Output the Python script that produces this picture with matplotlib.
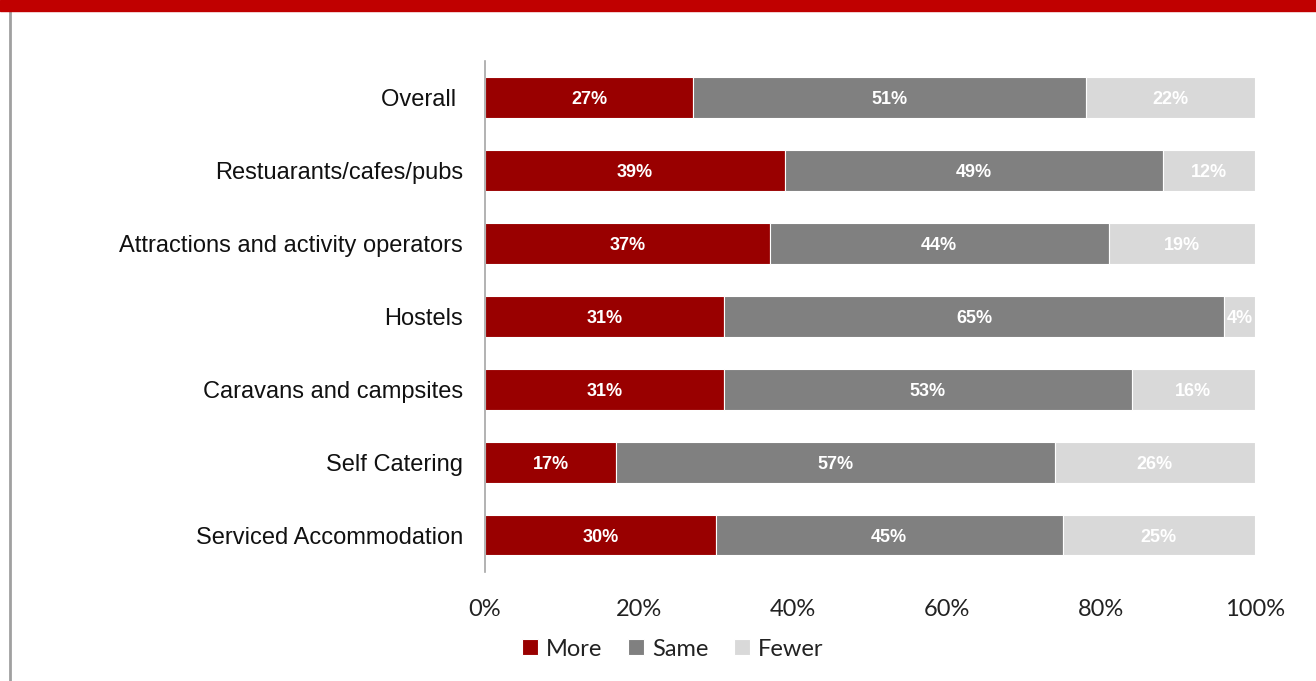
import matplotlib.pyplot as plt
from matplotlib.patches import Rectangle
from matplotlib.lines import Line2D

categories = ["Overall ", "Restuarants/cafes/pubs", "Attractions and activity operators",
              "Hostels", "Caravans and campsites", "Self Catering", "Serviced Accommodation"]
more = [27, 39, 37, 31, 31, 17, 30]
same = [51, 49, 44, 65, 53, 57, 45]
fewer = [22, 12, 19, 4, 16, 26, 25]
series_names = ["More", "Same", "Fewer"]
colors = ["#990000", "#808080", "#D9D9D9"]
xticks = [0, 20, 40, 60, 80, 100]

fig = plt.figure(figsize=(13.16, 6.81), dpi=100)
ax = fig.add_axes([485 / 1316, 1 - 571.5 / 681, 770 / 1316, 510.5 / 681])

y = list(range(len(categories)))
left = [0] * len(categories)
for name, vals, col in zip(series_names, [more, same, fewer], colors):
    ax.barh(y, vals, left=left, height=0.56, color=col, edgecolor="white",
            linewidth=0.8, label=name)
    for yi, l, v in zip(y, left, vals):
        ax.text(l + v / 2, yi + 0.03, f"{v}%", ha="center", va="center", color="white",
                fontsize=13, fontweight="bold", family="Liberation Sans")
    left = [a + b for a, b in zip(left, vals)]

ax.set_xlim(0, 100)
ax.set_ylim(len(categories) - 0.5, -0.5)
ax.set_yticks(y)
ax.set_yticklabels(categories, fontsize=17, family="Liberation Sans", color="#111111")
ax.set_xticks(xticks)
ax.set_xticklabels([f"{t}%" for t in xticks], fontsize=17, family="Lato", color="#222222")
ax.tick_params(axis="y", length=0, pad=16)
ax.tick_params(axis="x", length=0, pad=20)
for s in ["top", "right", "bottom"]:
    ax.spines[s].set_visible(False)
ax.spines["left"].set_color("#A6A6A6")
ax.spines["left"].set_linewidth(1.2)

leg = fig.legend(loc="center", bbox_to_anchor=(673 / 1316, 1 - 649 / 681), ncol=3,
                 frameon=False, prop={"family": "Lato", "size": 17},
                 handlelength=0.65, handleheight=0.65, handletextpad=0.35, columnspacing=1.1)
for t in leg.get_texts():
    t.set_color("#222222")

# header band and left frame edge
fig.add_artist(Rectangle((0, 1 - 11 / 681), 1, 11 / 681, transform=fig.transFigure,
                         color="#C00000", zorder=5))
fig.add_artist(Line2D([10 / 1316, 10 / 1316], [0, 1 - 11 / 681], transform=fig.transFigure,
                      color="#A0A0A0", linewidth=2))

fig.savefig("out.png", dpi=100)
